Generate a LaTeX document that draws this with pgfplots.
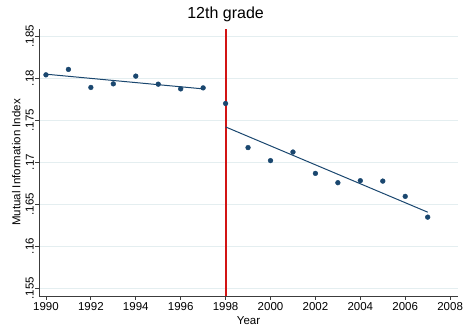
\documentclass[border=0pt]{standalone}
\usepackage{pgfplots}
\pgfplotsset{compat=1.18}
\usepackage{fontspec}
\setmainfont{Liberation Sans}
\definecolor{stnavy}{RGB}{26,71,111}
\definecolor{stgrid}{RGB}{228,238,240}
\definecolor{staxis}{RGB}{60,60,60}
\definecolor{stred}{RGB}{210,20,20}
\begin{document}
\begin{tikzpicture}
\begin{axis}[
  scale only axis,
  width=419pt, height=267pt,
  xmin=1989.69, xmax=2008.35,
  ymin=0.15405, ymax=0.18584,
  axis x line*=bottom, axis y line*=left,
  axis line style={staxis, line width=0.8pt},
  xtick={1990,1992,...,2008},
  xticklabels={1990,1992,1994,1996,1998,2000,2002,2004,2006,2008},
  ytick={0.155,0.16,0.165,0.17,0.175,0.18,0.185},
  yticklabels={.155,.16,.165,.17,.175,.18,.185},
  scaled y ticks=false,
  tick align=outside,
  major tick length=4pt,
  tick style={staxis, line width=0.8pt},
  ymajorgrids, grid style={stgrid, line width=0.8pt},
  ticklabel style={font=\fontsize{11.5}{12}\selectfont, text=black},
  yticklabel style={rotate=90, anchor=south, inner sep=1pt},
  xticklabel style={inner sep=2pt},
  xlabel={Year}, ylabel={Mutual Information Index},
  label style={font=\fontsize{11.5}{12}\selectfont},
  xlabel style={inner sep=0pt, yshift=-4pt},
  ylabel style={inner sep=0pt, yshift=4pt},
  title={12th grade},
  title style={font=\fontsize{16}{18}\selectfont, at={(axis cs:1998,0.18584)}, anchor=south, yshift=-1pt, fill=white, inner sep=2pt},
  clip=false,
]
\addplot[fill=stred, draw=none, mark=none] coordinates {
(1997.955,0.15405) (1998.045,0.15405) (1998.045,0.18584) (1997.955,0.18584)} --cycle;
\addplot[only marks, mark=*, mark size=2.4pt, color=stnavy] coordinates {
(1990,0.18038) (1991,0.18103) (1992,0.17888) (1993,0.17931) (1994,0.18023)
(1995,0.17927) (1996,0.17871) (1997,0.17883) (1998,0.17697) (1999,0.17172)
(2000,0.17017) (2001,0.17119) (2002,0.16865) (2003,0.16754) (2004,0.16778)
(2005,0.16773) (2006,0.16591) (2007,0.16344)};
\addplot[color=stnavy, line width=1pt, mark=none] coordinates {(1990,0.18046) (1997,0.17871)};
\addplot[color=stnavy, line width=1pt, mark=none] coordinates {(1998,0.17418) (2007,0.16403)};
\end{axis}
\pgfresetboundingbox
\path (-39pt,-35pt) rectangle (429pt,296pt);
\end{tikzpicture}
\end{document}
